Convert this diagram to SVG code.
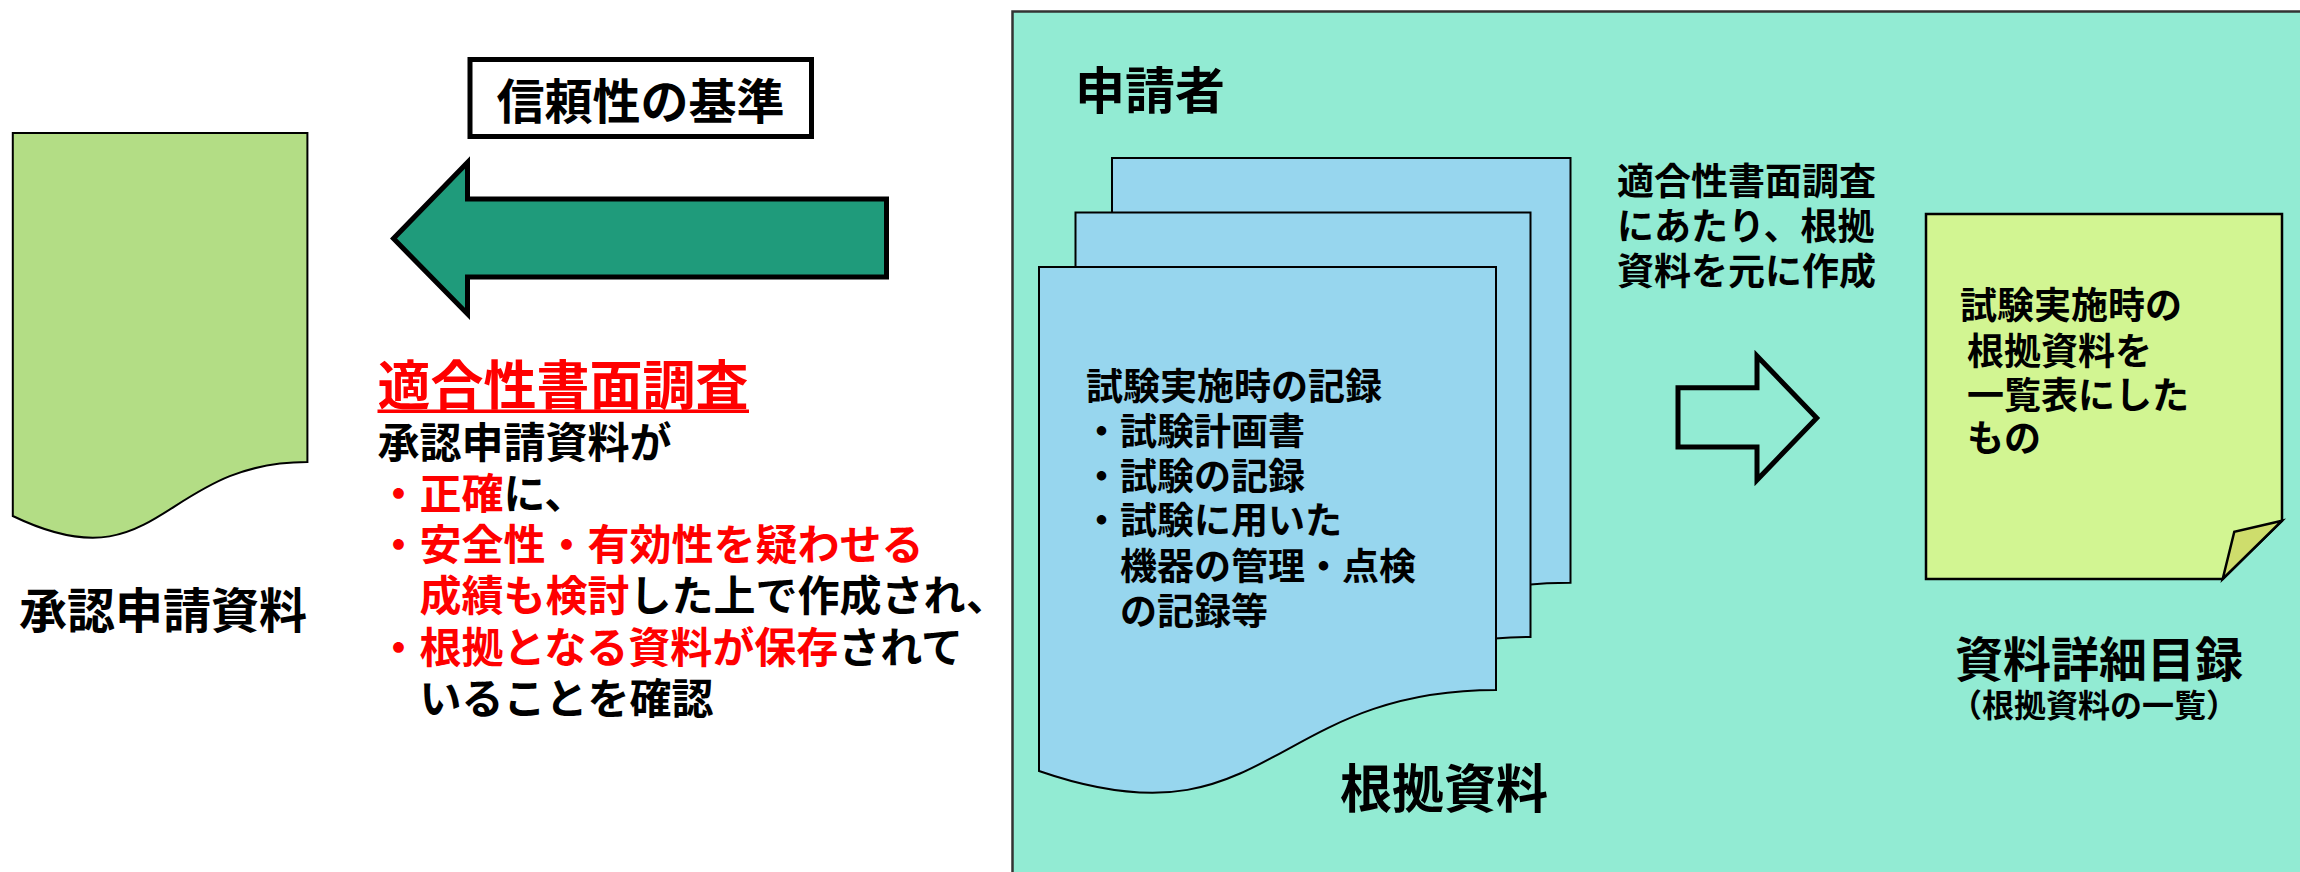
<svg xmlns="http://www.w3.org/2000/svg" width="2300" height="872" viewBox="0 0 2300 872">
<defs>
<style>
text{font-family:"Liberation Sans","Noto Sans CJK JP",sans-serif;font-weight:700;fill:#000}
.red{fill:#FF0000}
.blk{fill:#000}
.doc{fill:#97D6EE;stroke:#000;stroke-width:2}
.thick{stroke:#000;stroke-width:5;stroke-linejoin:miter}
</style>
</defs>
<rect width="2300" height="872" fill="#FFFFFF"/>

<g id="applicant-panel">
<rect x="1012.5" y="11.5" width="1300" height="870" fill="#92EBD3" stroke="#333" stroke-width="2.5"/>
<text x="1075" y="109" font-size="50">申請者</text>
</g>

<g id="approval-doc">
<path d="M12.8,133 H307.4 V462 C160,462 160,587 12.8,516 Z" fill="#B3DD85" stroke="#000" stroke-width="2"/>
<text x="19" y="628" font-size="48">承認申請資料</text>
</g>

<g id="criteria-box">
<rect x="470" y="59.5" width="341.5" height="77" fill="#FFFFFF" class="thick"/>
<text x="640.5" y="119" font-size="48" text-anchor="middle">信頼性の基準</text>
</g>

<g id="connectors">
<polygon points="393.5,238.6 467.5,162.5 467.5,199 886.5,199 886.5,277 467.5,277 467.5,314" fill="#1F9B7B" class="thick"/>
<polygon points="1678,387.7 1757,387.7 1757,356 1816.7,418 1757,480 1757,447 1678,447" fill="#92EBD3" class="thick"/>
</g>

<g id="review-text">
<rect x="377.5" y="409.5" width="371.5" height="3.5" fill="#FF0000"/>
<text font-size="42"><tspan x="377.5" y="405" font-size="53" class="red">適合性書面調査</tspan><tspan x="377.5" y="458">承認申請資料が</tspan><tspan x="377.5" y="509" class="red">・正確</tspan><tspan class="blk">に、</tspan><tspan x="377.5" y="560" class="red">・安全性・有効性を疑わせる</tspan><tspan x="419.5" y="611" class="red">成績も検討</tspan><tspan class="blk">した上で作成され、</tspan><tspan x="377.5" y="663" class="red">・根拠となる資料が保存</tspan><tspan class="blk">されて</tspan><tspan x="419.5" y="714">いることを確認</tspan></text>
</g>

<g id="evidence-docs">
<path transform="translate(1112,158)" class="doc" d="M0,0 H458.5 V424.7 C229,424.7 229,583 0,504 Z"/>
<path transform="translate(1075.5,212.5)" class="doc" d="M0,0 H455 V424.5 C228,424.5 228,583 0,504 Z"/>
<path transform="translate(1039,267)" class="doc" d="M0,0 H457 V423 C228.5,423 228.5,583 0,504 Z"/>
<text font-size="37"><tspan x="1086" y="400">試験実施時の記録</tspan><tspan x="1083" y="445">・試験計画書</tspan><tspan x="1083" y="490">・試験の記録</tspan><tspan x="1083" y="534">・試験に用いた</tspan><tspan x="1120" y="580">機器の管理・点検</tspan><tspan x="1120" y="625">の記録等</tspan></text>
<text x="1340" y="808" font-size="52">根拠資料</text>
</g>

<g id="process-label">
<text font-size="37"><tspan x="1617" y="195">適合性書面調査</tspan><tspan x="1617" y="240">にあたり、根拠</tspan><tspan x="1617" y="285">資料を元に作成</tspan></text>
</g>

<g id="detail-list">
<path d="M1926,214 H2282 V520.7 L2222.7,579 H1926 Z" fill="#D2F592" stroke="#000" stroke-width="2.5" stroke-linejoin="miter"/>
<polygon points="2282,520.7 2234.3,531.7 2222.7,579" fill="#CEDD6C" stroke="#000" stroke-width="2.5"/>
<text font-size="37"><tspan x="1960" y="319">試験実施時の</tspan><tspan x="1967" y="365">根拠資料を</tspan><tspan x="1967" y="409">一覧表にした</tspan><tspan x="1967" y="452">もの</tspan></text>
<text font-size="48"><tspan x="1955" y="677">資料詳細目録</tspan><tspan x="1950" y="717" font-size="32">（根拠資料の一覧）</tspan></text>
</g>
</svg>
